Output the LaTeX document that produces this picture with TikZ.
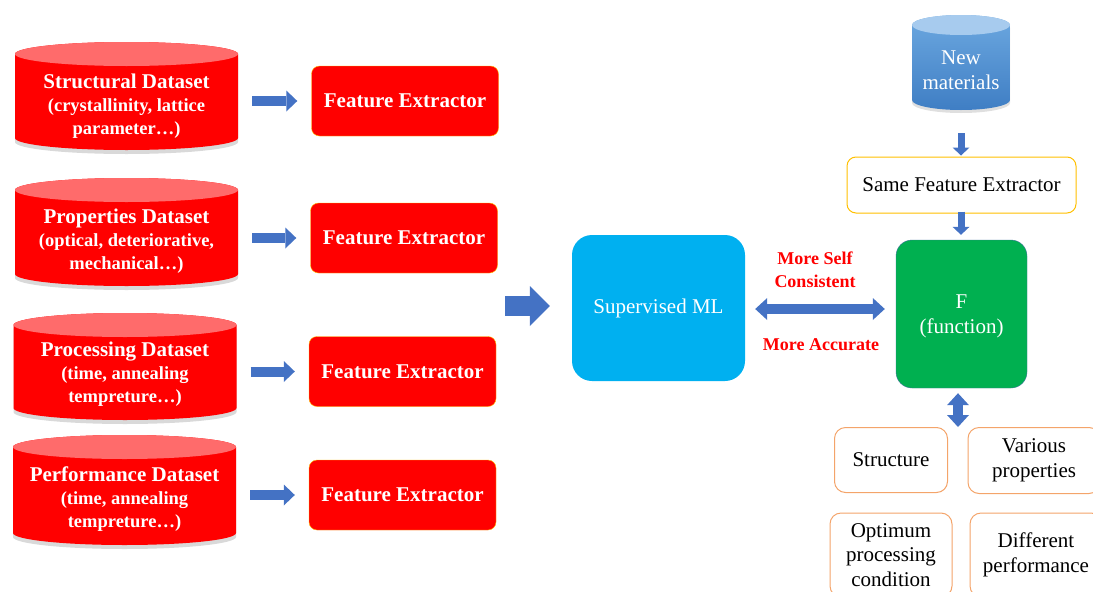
\documentclass[tikz,border=0pt]{standalone}
\usepackage{fontspec}
\setmainfont{Liberation Serif}
\usetikzlibrary{arrows.meta,shadows}

\definecolor{arrowblue}{HTML}{4472C4}
\definecolor{dsred}{HTML}{FF0000}
\definecolor{dstop}{HTML}{FF6B6B}
\definecolor{gold}{HTML}{FFC000}
\definecolor{mlcyan}{HTML}{00B0F0}
\definecolor{fgreen}{HTML}{00B050}
\definecolor{fborder}{HTML}{41719C}
\definecolor{outorange}{HTML}{F4A46A}
\definecolor{newtop}{HTML}{A7CBEE}
\definecolor{newhi}{HTML}{6CA8E0}
\definecolor{newlo}{HTML}{3F7EC4}

\tikzset{
  cylbody/.style={fill=dsred, drop shadow={shadow xshift=0pt, shadow yshift=-4pt, opacity=0.3}},
  cyltop/.style={fill=dstop},
  cyltext/.style={text=white, font=\bfseries\fontsize{18.5}{23}\selectfont, align=center,
    minimum width=223pt, inner sep=0pt},
  extractor/.style={draw=gold, fill=dsred, rounded corners=8pt, minimum width=187pt,
    minimum height=70pt, text=white, font=\bfseries\fontsize{21}{25}\selectfont},
  outbox/.style={draw=outorange, line width=1pt, fill=white, rounded corners=11pt,
    align=center, font=\fontsize{21}{24.5}\selectfont},
  fat/.style={draw=arrowblue, line width=10pt,
    -{Triangle[length=11pt,width=21pt,line width=0pt]}},
  slim/.style={draw=arrowblue, line width=7pt,
    -{Triangle[length=8pt,width=17pt,line width=0pt]}},
  merge/.style={draw=arrowblue, line width=20pt,
    -{Triangle[length=20pt,width=40pt,line width=0pt]}},
  twoway/.style={draw=arrowblue, line width=10pt,
    {Triangle[length=12pt,width=22pt,line width=0pt]}-{Triangle[length=12pt,width=22pt,line width=0pt]}},
  note/.style={text=dsred, font=\bfseries\fontsize{18}{23}\selectfont, align=center, inner sep=0pt}
}

% red dataset cylinder: name, centre x, top y, bottom y, text y, label
\newcommand\datacyl[6]{%
  \path[cylbody] ({#2-111.5},{-#3-12}) -- ({#2-111.5},{-#4+12})
    arc[start angle=180,end angle=360,x radius=111.5pt,y radius=12pt]
    -- ({#2+111.5},{-#3-12})
    arc[start angle=0,end angle=180,x radius=111.5pt,y radius=12pt] -- cycle;
  \path[cyltop] (#2,{-#3-12}) ellipse[x radius=111.5pt,y radius=12pt];
  \node[cyltext] (#1) at (#2,-#5) {#6};
}

\begin{document}
\begin{tikzpicture}[x=1pt,y=1pt]
\useasboundingbox (0,0) rectangle (1093,-592);
\clip (0,0) rectangle (1093,-592);

% datasets
\datacyl{c1}{126.5}{42}{150}{106}{{\fontsize{21}{23}\selectfont Structural Dataset}\\(crystallinity, lattice\\parameter…)}
\datacyl{c2}{126.5}{178}{286}{241}{{\fontsize{21}{23}\selectfont Properties Dataset}\\(optical, deteriorative,\\mechanical…)}
\datacyl{c3}{125}{313}{420}{374.5}{{\fontsize{21}{23}\selectfont Processing Dataset}\\(time, annealing\\tempreture…)}
\datacyl{c4}{124.5}{435}{545}{499}{{\fontsize{21}{23}\selectfont Performance Dataset}\\(time, annealing\\tempreture…)}

% feature extractors
\node[extractor] (fe1) at (405,-101) {Feature Extractor};
\node[extractor] (fe2) at (404,-238) {Feature Extractor};
\node[extractor] (fe3) at (402.5,-371.5) {Feature Extractor};
\node[extractor] (fe4) at (402.5,-495) {Feature Extractor};

\foreach \i in {1,2,3,4}
  \draw[fat, shorten <=14pt, shorten >=14pt] (c\i.east |- fe\i.west) -- (fe\i.west);

% learning block
\node[fill=mlcyan, rounded corners=20pt, minimum width=173pt, minimum height=146pt,
  text=white, font=\fontsize{21}{25}\selectfont] (ml) at (658.5,-308) {Supervised ML};
\coordinate (join) at (505,-306);
\draw[merge, shorten >=22pt] (join) -- (ml.west |- join);

% learned function
\node[draw=fborder, fill=fgreen, rounded corners=16pt, minimum width=131pt, minimum height=148pt,
  text=white, align=center, font=\fontsize{21}{25}\selectfont] (F) at (961.5,-314) {};
\node[text=white, align=center, font=\fontsize{21}{25}\selectfont, inner sep=0pt]
  (Flabel) at (961.5,-316) {F\\(function)};
\draw[twoway, shorten <=10pt, shorten >=11pt] (ml.east |- 0,-309) -- (F.west |- 0,-309);
\node[note] (self) at (815,-269.5) {More Self\\Consistent};
\node[note] (acc) at (821,-345) {More Accurate};

% new materials
\path[top color=newhi, bottom color=newlo, drop shadow={shadow xshift=0pt, shadow yshift=-3pt, opacity=0.25}]
  (912,-25) -- (912,-100) arc[start angle=180,end angle=360,x radius=49pt,y radius=10pt]
  -- (1010,-25) arc[start angle=0,end angle=180,x radius=49pt,y radius=10pt] -- cycle;
\path[fill=newtop] (961,-25) ellipse[x radius=49pt,y radius=10pt];
\node[text=white, align=center, font=\fontsize{21}{25}\selectfont, minimum width=98pt, inner sep=0pt]
  (newmat) at (961,-70.5) {New\\materials};
\coordinate (newbase) at (961,-110);

\node[draw=gold, line width=1pt, fill=white, rounded corners=9pt, minimum width=229pt, minimum height=56pt,
  font=\fontsize{21}{25}\selectfont] (same) at (961.5,-185) {Same Feature Extractor};
\draw[slim, shorten <=23pt, shorten >=1pt] (newbase) -- (same.north -| newbase);
\draw[slim, shorten <=-2pt, shorten >=5pt] (same.south -| newbase) -- (F.north -| newbase);

% outcomes
\node[outbox, minimum width=113pt, minimum height=65pt] (struct) at (891,-460) {Structure};
\node[outbox, minimum width=132pt, minimum height=66pt] (props) at (1034,-460.5) {Various\\properties};
\node[outbox, minimum width=122pt, minimum height=84pt] (optim) at (891,-555) {Optimum\\processing\\condition};
\node[outbox, minimum width=132pt, minimum height=84pt] (perf) at (1036,-555) {Different\\performance};
\coordinate (outs) at (958,-427);
\draw[twoway, line width=10pt, shorten <=5pt] (F.south -| outs) -- (outs);

\end{tikzpicture}
\end{document}
